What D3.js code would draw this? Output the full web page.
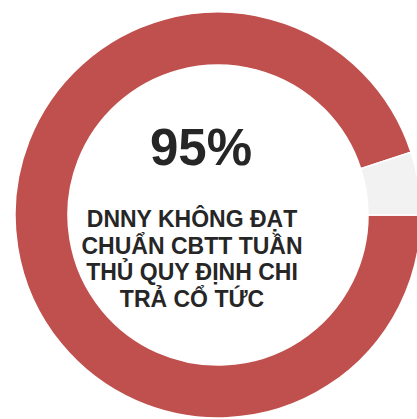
<!DOCTYPE html>
<html>
<head>
<meta charset="utf-8">
<script src="https://cdn.jsdelivr.net/npm/d3@7"></script>
<style>
  body { margin: 0; background: #fff; }
  svg { display: block; }
</style>
</head>
<body>
<div id="chart"></div>
<script>
// donut data
const labels = ["Không đạt", "Đạt"];
const values = [95, 5];
const colors = ["#c0504d", "#f2f2f2"];

const bigLabel = "95%";
const captionLines = ["DNNY KHÔNG ĐẠT", "CHUẨN CBTT TUẦN", "THỦ QUY ĐỊNH CHI", "TRẢ CỔ TỨC"];

const width = 417, height = 419;
const cx = 218, cy = 215;
const outerR = 203, innerR = 150;

const svg = d3.select("#chart")
  .append("svg")
  .attr("width", width)
  .attr("height", height);

const g = svg.append("g").attr("transform", `translate(${cx},${cy})`);

const pie = d3.pie()
  .sort(null)
  .startAngle(Math.PI / 2)
  .endAngle(Math.PI / 2 + 2 * Math.PI)
  .value(d => d);

const arc = d3.arc().innerRadius(innerR).outerRadius(outerR);

g.selectAll("path")
  .data(pie(values))
  .enter()
  .append("path")
  .attr("d", arc)
  .attr("fill", (d, i) => colors[i])
  .attr("stroke", "#fff")
  .attr("stroke-width", 1.5);

// center text
svg.append("text")
  .attr("x", 201)
  .attr("y", 165)
  .attr("text-anchor", "middle")
  .attr("font-family", "Liberation Sans, Arial, sans-serif")
  .attr("font-weight", 700)
  .attr("font-size", "51px")
  .attr("fill", "#262626")
  .text(bigLabel);

svg.append("g")
  .selectAll("text")
  .data(captionLines)
  .enter()
  .append("text")
  .attr("x", 192)
  .attr("y", (d, i) => 227 + i * 26.5)
  .attr("text-anchor", "middle")
  .attr("font-family", "Liberation Sans, Arial, sans-serif")
  .attr("font-weight", 700)
  .attr("font-size", "23px")
  .attr("fill", "#262626")
  .text(d => d);
</script>
</body>
</html>
